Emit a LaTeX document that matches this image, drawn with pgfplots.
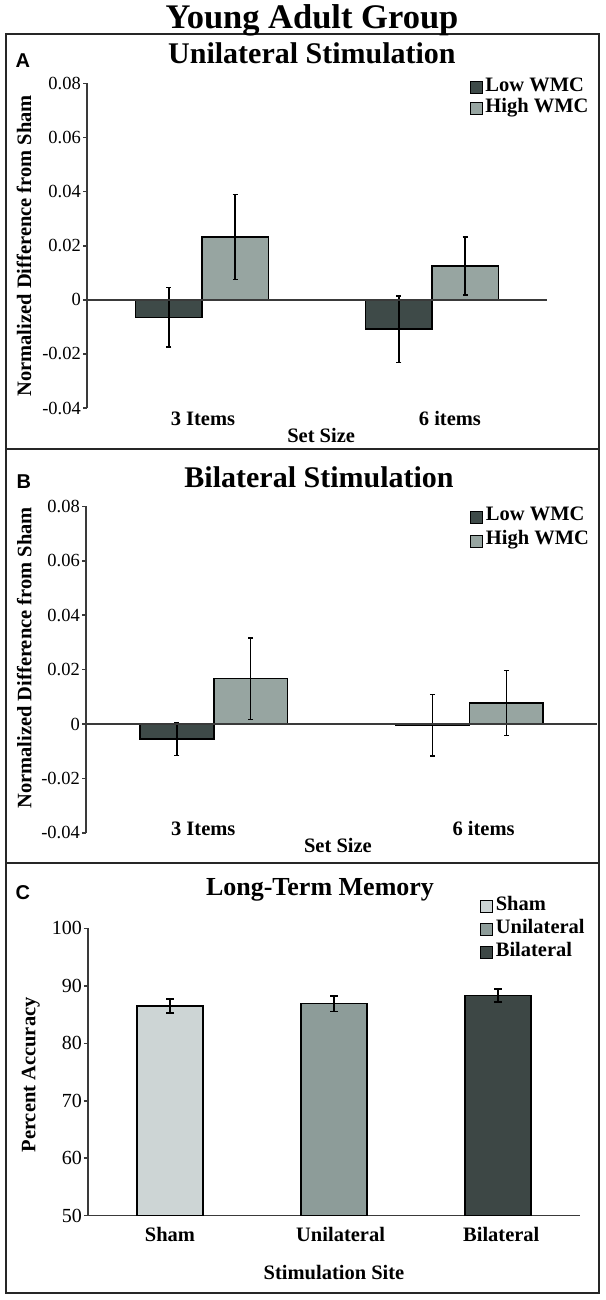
\documentclass[border=0pt]{standalone}
\usepackage{pgfplots}
\pgfplotsset{compat=1.18}
\usepackage{pgfplotstable}
\usepackage{fontspec}
\setmainfont{Liberation Serif}
\newfontfamily\letterfamily{Liberation Sans}
\definecolor{lowc}{HTML}{3E4A48}
\definecolor{highc}{HTML}{97A5A1}
\definecolor{shamc}{HTML}{CDD5D5}
\definecolor{unic}{HTML}{8D9C99}
\definecolor{bilc}{HTML}{3D4745}
\definecolor{axc}{HTML}{3A3A3A}
\newcommand\titlefont{\fontsize{34.5}{38}\selectfont\bfseries}
\newcommand\ptitlefont{\fontsize{30}{34}\selectfont\bfseries}
\newcommand\ctitlefont{\fontsize{26}{30}\selectfont\bfseries}
\newcommand\labfont{\fontsize{20.5}{24}\selectfont\bfseries}
\newcommand\ytfont{\fontsize{18.5}{21}\selectfont}
\newcommand\ytcfont{\fontsize{20}{23}\selectfont}
\newcommand\letterfont{\letterfamily\fontsize{20}{23}\selectfont\bfseries}

\pgfplotstableread{
x y e
1 -0.0065 0.0110
2 -0.0108 0.0123
}\Alow
\pgfplotstableread{
x y e
1 0.0233 0.0157
2 0.0125 0.0107
}\Ahigh
\pgfplotstableread{
x y e
1 -0.0056 0.0060
2 -0.0004 0.0113
}\Blow
\pgfplotstableread{
x y e
1 0.0167 0.0150
2 0.0077 0.0119
}\Bhigh
\pgfplotstableread{
x y e
1 86.5 1.20
}\Csham
\pgfplotstableread{
x y e
2 86.9 1.35
}\Cuni
\pgfplotstableread{
x y e
3 88.3 1.10
}\Cbil

\pgfplotsset{
  panel/.style={
    scale only axis, anchor=south west,
    ybar,
    axis y line*=left, axis x line*=bottom,
    x axis line style={draw=none},
    y axis line style={-, axc, line width=1.5pt},
    xtick style={draw=none},
    ytick style={axc, line width=1.5pt},
    tick align=outside, major tick length=4pt,
    scaled y ticks=false,
    /pgf/number format/fixed,
    /pgf/number format/precision=2,
    /pgf/number format/assume math mode=true,
    yticklabel style={inner xsep=2pt},
    xlabel style={anchor=center, font=\labfont},
    ylabel style={anchor=center, font=\labfont},
    legend cell align=left,
    legend image code/.code={\draw[#1, draw=black, line width=1pt] (0pt,-5.5pt) rectangle (12pt,6.5pt);},
  },
  barA/.style={draw=black, line width=1.5pt,
    error bars/y dir=both, error bars/y explicit,
    error bars/error bar style={black, line width=1.5pt},
    error bars/error mark options={rotate=90, mark size=2.5pt, line width=1.5pt, black}},
  barC/.style={draw=black, line width=1.5pt,
    error bars/y dir=both, error bars/y explicit,
    error bars/error bar style={black, line width=1.5pt},
    error bars/error mark options={rotate=90, mark size=4pt, line width=1.5pt, black}},
}

\begin{document}
\begin{tikzpicture}
\useasboundingbox (0pt,0pt) rectangle (605pt,-1300pt);
\fill[white] (0pt,0pt) rectangle (605pt,-1300pt);

% frames
\draw[black!85, line width=2pt] (6pt,-34pt) rectangle (598.5pt,-1293pt);
\draw[black!85, line width=2pt] (6pt,-449.3pt) -- (598.5pt,-449.3pt);
\draw[black!85, line width=2pt] (6pt,-862.7pt) -- (598.5pt,-862.7pt);

\node[anchor=base] at (312pt,-28.5pt) {\titlefont Young Adult Group};
\node[anchor=base west] at (12pt,-68pt) {\letterfont A};
\node[anchor=base west] at (13pt,-488.5pt) {\letterfont B};
\node[anchor=base west] at (12pt,-899.5pt) {\letterfont C};

% ---------------- Panel A
\begin{axis}[panel,
  at={(87pt,-408pt)}, width=460pt, height=324.5pt,
  xmin=0.5, xmax=2.5, ymin=-0.04, ymax=0.08,
  bar width=0.289,
  xtick={1.004,2.078}, xticklabels={3 Items,6 items},
  xticklabel style={anchor=base, yshift=-13.7pt, font=\labfont},
  ytick={-0.04,-0.02,0,0.02,0.04,0.06,0.08},
  yticklabel style={font=\ytfont},
  xlabel={Set Size}, xlabel style={at={(axis description cs:0.509,-0.086)}},
  ylabel={Normalized Difference from Sham}, ylabel style={at={(axis description cs:-0.137,0.5)}},
  title={Unilateral Stimulation},
  title style={at={(axis description cs:0.489,1.0437)}, anchor=base, font=\ptitlefont},
  legend style={at={(axis description cs:0.832,1.018)}, anchor=north west, draw=none, fill=none,
    inner sep=0pt, font=\labfont, row sep=0pt,
    nodes={inner xsep=2.5pt, inner ysep=0pt, text height=14pt, text depth=6.7pt}},
]
\addplot[barA, fill=lowc, bar shift=-0.1445] table[x=x, y=y, y error=e] {\Alow};
\addlegendentry{Low WMC}
\addplot[barA, fill=highc, bar shift=0.1445] table[x=x, y=y, y error=e] {\Ahigh};
\addlegendentry{High WMC}
\draw[axc, line width=1.5pt] (axis cs:0.5,0) -- (axis cs:2.5,0);
\end{axis}

% ---------------- Panel B
\begin{axis}[panel,
  at={(86pt,-832.8pt)}, width=511pt, height=326.4pt,
  xmin=0.5, xmax=2.5, ymin=-0.04, ymax=0.08,
  bar width=0.2896,
  xtick={0.959,2.056}, xticklabels={3 Items,6 items},
  xticklabel style={anchor=base, yshift=1pt, font=\labfont},
  ytick={-0.04,-0.02,0,0.02,0.04,0.06,0.08},
  yticklabel style={font=\ytfont},
  xlabel={Set Size}, xlabel style={at={(axis description cs:0.493,-0.04)}},
  ylabel={Normalized Difference from Sham}, ylabel style={at={(axis description cs:-0.121,0.536)}},
  title={Bilateral Stimulation},
  title style={at={(axis description cs:0.456,1.040)}, anchor=base, font=\ptitlefont},
  legend style={at={(axis description cs:0.752,1.003)}, anchor=north west, draw=none, fill=none,
    inner sep=0pt, font=\labfont, row sep=0pt,
    nodes={inner xsep=2.5pt, inner ysep=0pt, text height=15pt, text depth=9pt}},
]
\addplot[barA, fill=lowc, bar shift=-0.1448] table[x=x, y=y, y error=e] {\Blow};
\addlegendentry{Low WMC}
\addplot[barA, fill=highc, bar shift=0.1448] table[x=x, y=y, y error=e] {\Bhigh};
\addlegendentry{High WMC}
\draw[axc, line width=1.5pt] (axis cs:0.5,0) -- (axis cs:2.5,0);
\end{axis}

% ---------------- Panel C
\begin{axis}[panel,
  at={(88pt,-1215.7pt)}, width=492pt, height=287.4pt,
  xmin=0.5, xmax=3.5, ymin=50, ymax=100,
  bar width=0.405,
  x axis line style={draw=axc, line width=1.5pt, -},
  xtick={1,2.04,3.02}, xticklabels={Sham,Unilateral,Bilateral},
  xticklabel style={anchor=base, yshift=-22pt, font=\labfont},
  ytick={50,60,70,80,90,100},
  yticklabel style={font=\ytcfont},
  xlabel={Stimulation Site}, xlabel style={at={(axis description cs:0.5,-0.196)}},
  ylabel={Percent Accuracy}, ylabel style={at={(axis description cs:-0.116,0.49)}},
  title={Long-Term Memory},
  title style={at={(axis description cs:0.4715,1.0926)}, anchor=base, font=\ctitlefont},
  legend style={at={(axis description cs:0.797,1.115)}, anchor=north west, draw=none, fill=none,
    inner sep=0pt, font=\labfont, row sep=0pt,
    nodes={inner xsep=2.5pt, inner ysep=0pt, text height=15pt, text depth=8pt}},
]
\addplot[barC, fill=shamc, bar shift=0] table[x=x, y=y, y error=e] {\Csham};
\addlegendentry{Sham}
\addplot[barC, fill=unic, bar shift=0] table[x=x, y=y, y error=e] {\Cuni};
\addlegendentry{Unilateral}
\addplot[barC, fill=bilc, bar shift=0] table[x=x, y=y, y error=e] {\Cbil};
\addlegendentry{Bilateral}
\end{axis}
\end{tikzpicture}
\end{document}
